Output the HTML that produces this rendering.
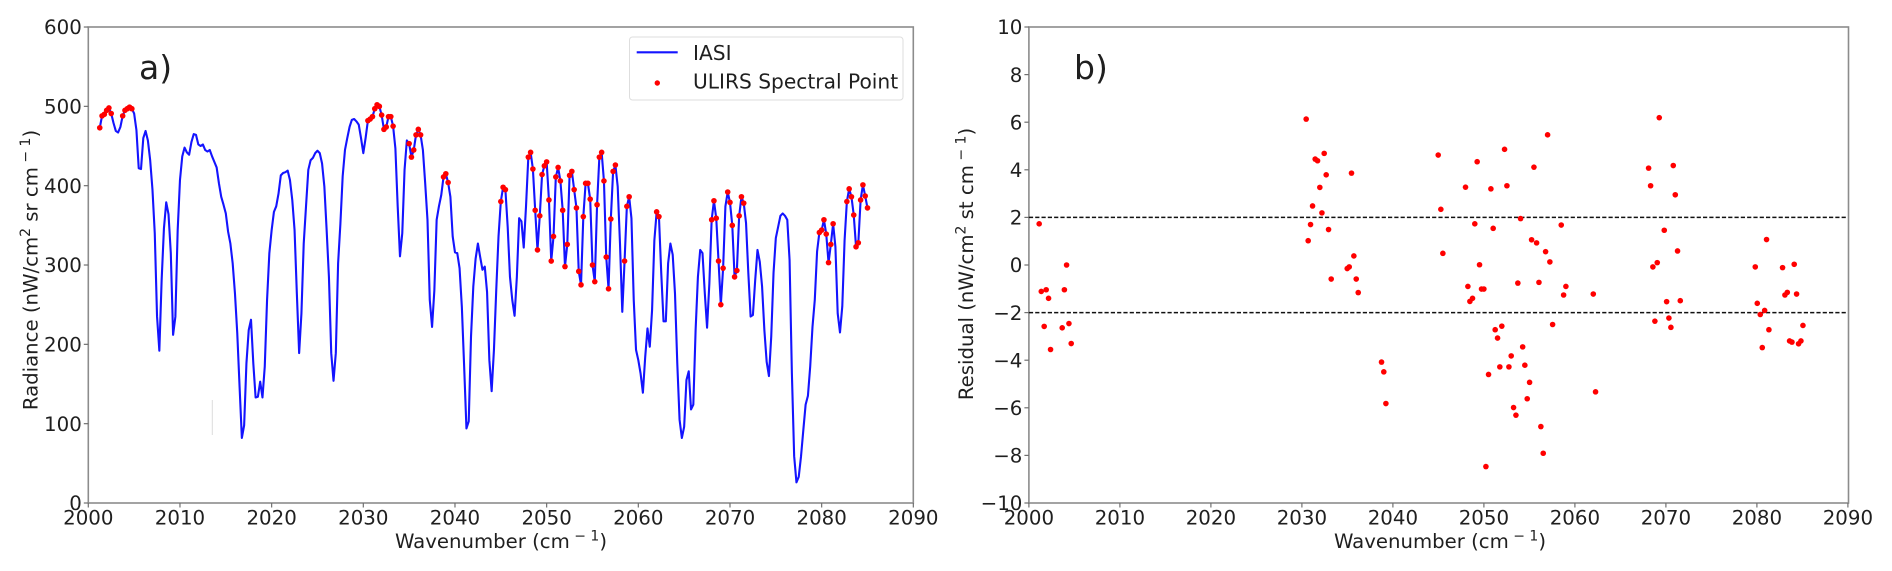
<!DOCTYPE html>
<html lang="en">
<head>
<meta charset="utf-8">
<title>IASI radiance and ULIRS residual</title>
<style>
html,body{margin:0;padding:0;background:#fff;width:1892px;height:571px;overflow:hidden}
svg{display:block;filter:blur(0.35px)}
text{font-family:"DejaVu Sans","Liberation Sans",sans-serif;fill:#1f1f1f}
.tick-label{font-size:19.8px}
.axis-title{font-size:19.7px}
.panel-letter{font-size:33px}
.legend-text{font-size:20.2px}
.spine{fill:none;stroke:#8c8c8c;stroke-width:1.6}
.tick{stroke:#707070;stroke-width:1.2}
</style>
</head>
<body>
<svg id="figure" xmlns="http://www.w3.org/2000/svg" width="1892" height="571" viewBox="0 0 1892 571">
  <g id="panel-a">
    <rect class="spine" x="88.3" y="27" width="825" height="476"/>
    <g id="a-axes"></g>
    <line x1="212.3" y1="400" x2="212.3" y2="435" stroke="#dcdcdc" stroke-width="1"/>
    <g id="a-marks"></g>
    <text class="panel-letter" x="139" y="79">a)</text>
    <text class="axis-title" x="501" y="548" text-anchor="middle">Wavenumber (cm<tspan font-size="14" dy="-7.5"> − 1</tspan><tspan dy="7.5">)</tspan></text>
    <text class="axis-title" transform="translate(37.5 270) rotate(-90)" text-anchor="middle">Radiance (nW/cm<tspan font-size="14" dy="-7.5">2</tspan><tspan dy="7.5"> sr cm</tspan><tspan font-size="14" dy="-7.5"> − 1</tspan><tspan dy="7.5">)</tspan></text>
    <g id="legend">
      <rect x="629.5" y="37" width="273.5" height="63" rx="3" fill="#fff" fill-opacity="0.85" stroke="#dedede" stroke-width="1"/>
      <line x1="636.7" y1="52.3" x2="677.7" y2="52.3" stroke="#1414ff" stroke-width="2.1"/>
      <text class="legend-text" x="693" y="60">IASI</text>
      <circle cx="657.3" cy="83" r="2.7" fill="#ff0000"/>
      <text class="legend-text" x="693" y="88.3">ULIRS Spectral Point</text>
    </g>
  </g>
  <g id="panel-b">
    <rect class="spine" x="1028.9" y="27" width="819.6" height="476"/>
    <g id="b-axes"></g>
    <g id="b-marks"></g>
    <text class="panel-letter" x="1074" y="79">b)</text>
    <text class="axis-title" x="1440" y="548" text-anchor="middle">Wavenumber (cm<tspan font-size="14" dy="-7.5"> − 1</tspan><tspan dy="7.5">)</tspan></text>
    <text class="axis-title" transform="translate(973 264) rotate(-90)" text-anchor="middle">Residual (nW/cm<tspan font-size="14" dy="-7.5">2</tspan><tspan dy="7.5"> st cm</tspan><tspan font-size="14" dy="-7.5"> − 1</tspan><tspan dy="7.5">)</tspan></text>
  </g>
</svg>
<script>
// ---- chart data ----
const xTickLabels = ["2000","2010","2020","2030","2040","2050","2060","2070","2080","2090"];
const radianceTickLabels = ["0","100","200","300","400","500","600"];
const residualTickLabels = ["−10","−8","−6","−4","−2","0","2","4","6","8","10"];
const residualBands = [2, -2];

const iasiWavenumber = [
2001.25,2001.5,2001.75,
2002,2002.25,2002.5,2002.75,2003,2003.25,2003.5,2003.75,2004,2004.25,2004.5,2004.75,
2005,2005.25,2005.5,2005.75,2006,2006.25,2006.5,2006.75,2007,2007.25,2007.5,2007.75,
2008,2008.25,2008.5,2008.75,2009,2009.25,2009.5,2009.75,2010,2010.25,2010.5,2010.75,
2011,2011.25,2011.5,2011.75,2012,2012.25,2012.5,2012.75,2013,2013.25,2013.5,2013.75,
2014,2014.25,2014.5,2014.75,2015,2015.25,2015.5,2015.75,2016,2016.25,2016.5,2016.75,
2017,2017.25,2017.5,2017.75,2018,2018.25,2018.5,2018.75,2019,2019.25,2019.5,2019.75,
2020,2020.25,2020.5,2020.75,2021,2021.25,2021.5,2021.75,2022,2022.25,2022.5,2022.75,
2023,2023.25,2023.5,2023.75,2024,2024.25,2024.5,2024.75,2025,2025.25,2025.5,2025.75,
2026,2026.25,2026.5,2026.75,2027,2027.25,2027.5,2027.75,2028,2028.25,2028.5,2028.75,
2029,2029.25,2029.5,2029.75,2030,2030.25,2030.5,2030.75,2031,2031.25,2031.5,2031.75,
2032,2032.25,2032.5,2032.75,2033,2033.25,2033.5,2033.75,2034,2034.25,2034.5,2034.75,
2035,2035.25,2035.5,2035.75,2036,2036.25,2036.5,2036.75,2037,2037.25,2037.5,2037.75,
2038,2038.25,2038.5,2038.75,2039,2039.25,2039.5,2039.75,2040,2040.25,2040.5,2040.75,
2041,2041.25,2041.5,2041.75,2042,2042.25,2042.5,2042.75,2043,2043.25,2043.5,2043.75,
2044,2044.25,2044.5,2044.75,2045,2045.25,2045.5,2045.75,2046,2046.25,2046.5,2046.75,
2047,2047.25,2047.5,2047.75,2048,2048.25,2048.5,2048.75,2049,2049.25,2049.5,2049.75,
2050,2050.25,2050.5,2050.75,2051,2051.25,2051.5,2051.75,2052,2052.25,2052.5,2052.75,
2053,2053.25,2053.5,2053.75,2054,2054.25,2054.5,2054.75,2055,2055.25,2055.5,2055.75,
2056,2056.25,2056.5,2056.75,2057,2057.25,2057.5,2057.75,2058,2058.25,2058.5,2058.75,
2059,2059.25,2059.5,2059.75,2060,2060.25,2060.5,2060.75,2061,2061.25,2061.5,2061.75,
2062,2062.25,2062.5,2062.75,2063,2063.25,2063.5,2063.75,2064,2064.25,2064.5,2064.75,
2065,2065.25,2065.5,2065.75,2066,2066.25,2066.5,2066.75,2067,2067.25,2067.5,2067.75,
2068,2068.25,2068.5,2068.75,2069,2069.25,2069.5,2069.75,2070,2070.25,2070.5,2070.75,
2071,2071.25,2071.5,2071.75,2072,2072.25,2072.5,2072.75,2073,2073.25,2073.5,2073.75,
2074,2074.25,2074.5,2074.75,2075,2075.25,2075.5,2075.75,2076,2076.25,2076.5,2076.75,
2077,2077.25,2077.5,2077.75,2078,2078.25,2078.5,2078.75,2079,2079.25,2079.5,2079.75,
2080,2080.25,2080.5,2080.75,2081,2081.25,2081.5,2081.75,2082,2082.25,2082.5,2082.75,
2083,2083.25,2083.5,2083.75,2084,2084.25,2084.5,2084.75,2085
];
const iasiRadiance = [
473,488,490,
495,498,491,479,469,467,474,488,495,497,499,497,
491,470,422,421,460,469,457,432,395,340,235,192,
281,346,379,364,315,212,235,344,407,437,448,442,
439,455,465,464,452,450,452,445,443,445,437,430,
423,403,386,376,365,342,327,302,264,214,147,82,
98,176,218,231,176,133,134,153,133,172,256,315,
344,367,374,390,413,416,417,419,407,382,344,264,
189,239,327,374,420,432,435,441,444,441,428,399,
344,285,189,154,189,302,352,412,445,460,474,483,
484,481,477,460,441,460,482,484,487,497,502,500,
489,471,474,487,487,475,447,374,311,340,420,457,
453,436,445,464,471,464,445,403,357,256,222,268,
357,374,388,411,415,404,386,336,316,315,296,247,
172,94,103,210,273,308,327,310,294,298,266,180,
141,193,268,336,380,398,395,348,285,256,236,285,
359,355,322,374,436,442,421,369,319,362,414,425,
430,382,305,336,411,423,406,369,298,326,413,418,
395,372,292,275,361,403,403,383,300,279,376,436,
442,406,310,270,358,418,426,399,327,241,305,374,
386,359,256,193,180,163,139,184,220,197,243,331,
367,361,290,229,229,302,327,313,264,176,105,82,
96,155,166,118,124,218,285,319,315,265,221,277,
357,381,359,305,250,296,374,392,379,350,285,293,
362,386,378,353,290,235,237,281,319,304,273,218,
178,160,210,290,334,348,362,365,362,357,306,164,
59,26,33,59,92,124,135,172,222,256,317,341,
344,357,339,303,326,352,323,239,215,248,331,380,
396,386,363,323,328,382,401,387,372
];

const ulirsWavenumber = [
2001.25,2001.5,2001.75,2002,2002.25,2002.5,2003.75,2004,2004.25,2004.5,2004.75,
2030.5,2030.75,2031,2031.25,2031.5,2031.75,2032,2032.25,2032.5,2032.75,2033,2033.25,
2035,2035.25,2035.5,2035.75,2036,2036.25,
2038.75,2039,2039.25,
2045,2045.25,2045.5,
2048,2048.25,2048.5,2048.75,2049,2049.25,2049.5,2049.75,2050,2050.25,2050.5,2050.75,
2051,2051.25,2051.5,2051.75,2052,2052.25,2052.5,2052.75,2053,2053.25,2053.5,2053.75,
2054,2054.25,2054.5,2054.75,2055,2055.25,2055.5,2055.75,2056,2056.25,2056.5,2056.75,
2057,2057.25,2057.5,
2058.5,2058.75,2059,
2062,2062.25,
2068,2068.25,2068.5,2068.75,2069,2069.25,2069.75,2070,2070.25,2070.5,2070.75,2071,2071.25,2071.5,
2079.75,2080,2080.25,2080.5,2080.75,2081,2081.25,
2082.75,2083,2083.25,2083.5,2083.75,2084,2084.25,2084.5,2084.75,2085
];
const ulirsRadiance = [
473,488,490,495,498,491,488,495,497,499,497,
482,484,487,497,502,500,489,471,474,487,487,475,
453,436,445,464,471,464,
411,415,404,
380,398,395,
436,442,421,369,319,362,414,425,430,382,305,336,
411,423,406,369,298,326,413,418,395,372,292,275,
361,403,403,383,300,279,376,436,442,406,310,270,
358,418,426,
305,374,386,
367,361,
357,381,359,305,250,296,392,379,350,285,293,362,386,378,
341,344,357,339,303,326,352,
380,396,386,363,323,328,382,401,387,372
];

const residualWavenumber = [
2001.13,2001.36,2001.68,2001.9,2002.16,2002.38,2003.66,2003.9,2004.14,2004.4,2004.65,
2030.47,2030.69,2030.95,2031.17,2031.46,2031.72,2031.97,2032.2,2032.45,2032.67,2032.93,2033.22,
2034.98,2035.2,2035.45,2035.71,2035.97,2036.19,
2038.75,2039,2039.23,
2044.98,2045.27,2045.49,
2047.98,2048.24,2048.46,2048.75,2049,2049.26,2049.52,2049.74,2050,2050.22,2050.51,2050.77,
2051.02,2051.24,2051.5,2051.75,2051.97,2052.27,2052.53,2052.75,2053,2053.26,2053.52,2053.73,
2054.03,2054.26,2054.5,2054.76,2055.02,2055.24,2055.5,2055.79,2056.05,2056.26,2056.52,2056.78,
2057,2057.25,2057.55,
2058.5,2058.76,2059.01,
2062.02,2062.27,
2068.1,2068.32,2068.57,2068.79,2069.05,2069.27,2069.82,2070.08,2070.33,2070.55,2070.81,2071.03,2071.28,2071.58,
2079.82,2080.04,2080.37,2080.59,2080.85,2081.06,2081.32,
2082.82,2083.08,2083.34,2083.59,2083.85,2084.1,2084.36,2084.58,2084.84,2085.06
];
const residualValue = [
1.73,-1.11,-2.58,-1.04,-1.40,-3.55,-2.64,-1.04,0.0,-2.46,-3.30,
6.13,1.02,1.70,2.48,4.45,4.38,3.26,2.19,4.69,3.79,1.49,-0.59,
-0.15,-0.08,3.86,0.38,-0.59,-1.16,
-4.08,-4.49,-5.82,
4.62,2.34,0.49,
3.27,-0.90,-1.53,-1.40,1.73,4.34,0.01,-1.01,-1.01,-8.47,-4.60,3.20,
1.54,-2.72,-3.07,-4.28,-2.57,4.86,3.33,-4.28,-3.82,-5.99,-6.31,-0.76,
1.95,-3.44,-4.21,-5.62,-4.93,1.06,4.11,0.93,-0.73,-6.79,-7.91,0.56,
5.47,0.13,-2.50,
1.68,-1.26,-0.90,
-1.22,-5.33,
4.07,3.33,-0.08,-2.36,0.10,6.19,1.46,-1.54,-2.23,-2.62,4.18,2.95,0.59,-1.50,
-0.08,-1.61,-2.08,-3.47,-1.91,1.07,-2.72,
-0.11,-1.26,-1.15,-3.19,-3.24,0.03,-1.22,-3.31,-3.19,-2.54
];

// ---- axis functions ----
const NS = 'http://www.w3.org/2000/svg';
function xA(w){ return 88.3 + (w - 2000) * 9.167; }
function yA(r){ return 503 - r * 0.7933; }
function xB(w){ return 1028.9 + (w - 2000) * 9.1; }
function yB(v){ return 265 - v * 23.8; }
function parseTick(s){ return Number(s.replace('−', '-')); }

function make(parent, tag, attrs){
  const el = document.createElementNS(NS, tag);
  Object.keys(attrs).forEach(function(k){ el.setAttribute(k, attrs[k]); });
  parent.appendChild(el);
  return el;
}

function drawAxes(host, xf, yf, yLabels, left, bottom){
  xTickLabels.forEach(function(label){
    const x = xf(Number(label));
    const t = make(host, 'line', {x1:x, x2:x, y1:bottom, y2:bottom + 4.5, 'class':'tick'});
    
    
    const l = make(host, 'text', {x:x, y:524.5, 'text-anchor':'middle', 'class':'tick-label'});
    
    
    l.textContent = label;
  });
  yLabels.forEach(function(label){
    const y = yf(parseTick(label));
    const t = make(host, 'line', {x1:left - 4.5, x2:left, y1:y, y2:y, 'class':'tick'});
    
    
    const l = make(host, 'text', {x:left - 6.5, y:y + 7.2, 'text-anchor':'end', 'class':'tick-label'});
    
    
    l.textContent = label;
  });
}

drawAxes(document.getElementById('a-axes'), xA, yA, radianceTickLabels, 88.3, 503);
drawAxes(document.getElementById('b-axes'), xB, yB, residualTickLabels, 1028.9, 503);

// panel a: IASI line and ULIRS points
const aMarks = document.getElementById('a-marks');
const iasiPoints = iasiWavenumber.map(function(w, i){
  return xA(w).toFixed(2) + ',' + yA(iasiRadiance[i]).toFixed(2);
}).join(' ');
const iasiLine = make(aMarks, 'polyline', {points:iasiPoints, fill:'none', stroke:'#1414ff', 'stroke-width':2.1, 'stroke-linejoin':'round'});


ulirsWavenumber.forEach(function(w, i){
  const dot = make(aMarks, 'circle', {cx:xA(w), cy:yA(ulirsRadiance[i]), r:2.8, fill:'#ff0000'});
  
  
});

// panel b: limit lines and residual points
const bMarks = document.getElementById('b-marks');
residualBands.forEach(function(v){
  const band = make(bMarks, 'line', {x1:xB(2000), x2:xB(2090), y1:yB(v), y2:yB(v), stroke:'#111', 'stroke-width':1.5, 'stroke-dasharray':'4.2 2.1'});
  
  
});
residualWavenumber.forEach(function(w, i){
  const dot = make(bMarks, 'circle', {cx:xB(w), cy:yB(residualValue[i]), r:2.8, fill:'#ff0000'});
  
  
});
</script>
</body>
</html>
